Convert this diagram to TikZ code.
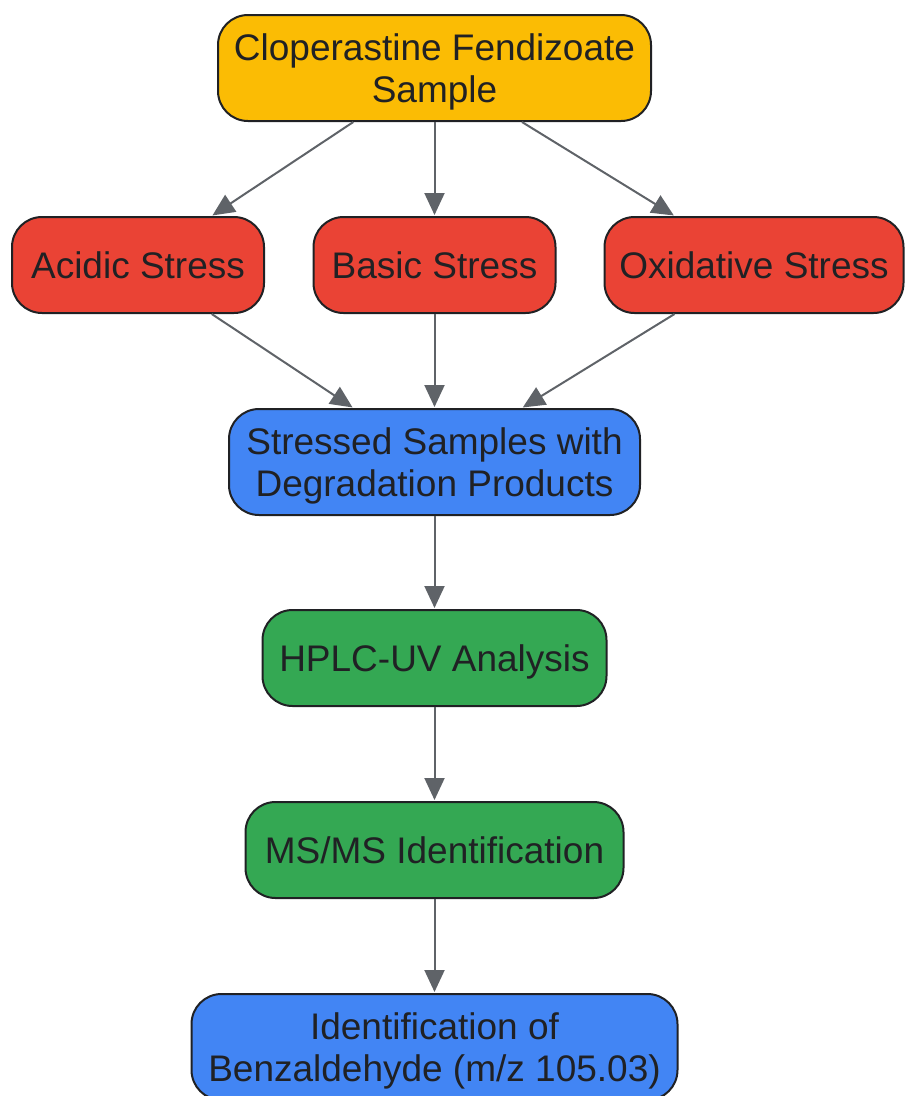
\documentclass[tikz,border=0pt]{standalone}
\usepackage{fontspec}
\setmainfont{Liberation Sans}
\usetikzlibrary{arrows.meta}
\definecolor{cyellow}{HTML}{FBBC04}
\definecolor{cred}{HTML}{EA4335}
\definecolor{cblue}{HTML}{4285F4}
\definecolor{cgreen}{HTML}{34A853}
\definecolor{ctext}{HTML}{202124}
\definecolor{carrow}{HTML}{5F6368}
\tikzset{
  box/.style={draw=ctext, line width=2pt, rounded corners=30pt, text=ctext,
    align=center, font=\fontsize{37}{42}\selectfont, inner sep=0pt, text depth=-3pt},
  onebox/.style={box, minimum height=96pt, text depth=-7pt},
  twobox/.style={box, minimum height=106pt},
  arr/.style={draw=carrow, line width=2pt, -{Triangle[length=22pt,width=20pt]}, shorten >=1pt}
}
\begin{document}
\begin{tikzpicture}[x=1pt,y=-1pt]
\useasboundingbox (0,0) rectangle (905,1096);
\node[twobox, fill=cyellow, minimum width=433pt] (top) at (434.5,68) {Cloperastine Fendizoate\\Sample};
\node[onebox, fill=cred, minimum width=252pt] (acid) at (138,265) {Acidic Stress};
\node[onebox, fill=cred, minimum width=242pt] (basic) at (434.5,265) {Basic Stress};
\node[onebox, fill=cred, minimum width=299pt] (oxid) at (754,265) {Oxidative Stress};
\node[twobox, fill=cblue, minimum width=411pt] (stressed) at (434.5,462) {Stressed Samples with\\Degradation Products};
\node[onebox, fill=cgreen, minimum width=344pt] (hplc) at (434.5,658) {HPLC-UV Analysis};
\node[onebox, fill=cgreen, minimum width=378pt] (msms) at (434.5,850) {MS/MS Identification};
\node[twobox, fill=cblue, minimum width=486pt] (ident) at (434.5,1047) {Identification of\\Benzaldehyde (m/z 105.03)};
\draw[arr] (top) -- (acid);
\draw[arr] (top) -- (basic);
\draw[arr] (top) -- (oxid);
\draw[arr] (acid) -- (stressed);
\draw[arr] (basic) -- (stressed);
\draw[arr] (oxid) -- (stressed);
\draw[arr] (stressed) -- (hplc);
\draw[arr] (hplc) -- (msms);
\draw[arr] (msms) -- (ident);
\end{tikzpicture}
\end{document}
